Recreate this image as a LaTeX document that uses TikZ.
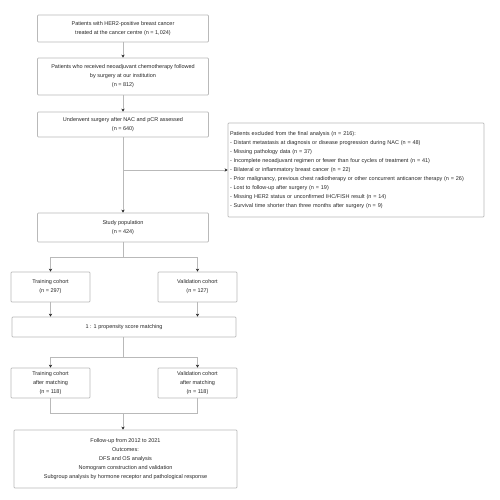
\documentclass[tikz,border=0pt]{standalone}
\usepackage{fontspec}
\setmainfont{Liberation Sans}
\usetikzlibrary{arrows.meta}

\tikzset{
  flowbox/.style={draw=gray!55, line width=0.7pt, rounded corners=0.8pt, align=center,
    text=black!85, font=\fontsize{5.5}{9}\selectfont, inner sep=2pt},
  flowline/.style={draw=gray!55, line width=0.7pt},
  >={Stealth[length=3pt,width=3.2pt,black!85]}
}

\begin{document}
\begin{tikzpicture}[x=1pt,y=1pt]
\useasboundingbox (0,0) rectangle (500,-500);

% main column
\node[flowbox, minimum width=171pt, minimum height=27pt] (pool) at (123,-28.5)
  {Patients with HER2-positive breast cancer\\ treated at the cancer centre (n = 1,024)};
\node[flowbox, minimum width=171pt, minimum height=37pt] (nac) at (123,-76.5)
  {Patients who received neoadjuvant chemotherapy followed\\ by surgery at our institution\\ (n = 812)};
\node[flowbox, minimum width=171pt, minimum height=25pt] (surg) at (123,-124.5)
  {Underwent surgery after NAC and pCR assessed\\ (n = 640)};

% exclusions
\node[flowbox, align=left, text width=252pt, minimum height=94pt] (excl) at (356,-170)
  {Patients excluded from the final analysis (n = 216):\\
   - Distant metastasis at diagnosis or disease progression during NAC (n = 48)\\
   - Missing pathology data (n = 37)\\
   - Incomplete neoadjuvant regimen or fewer than four cycles of treatment (n = 41)\\
   - Bilateral or inflammatory breast cancer (n = 22)\\
   - Prior malignancy, previous chest radiotherapy or other concurrent anticancer therapy (n = 26)\\
   - Lost to follow-up after surgery (n = 19)\\
   - Missing HER2 status or unconfirmed IHC/FISH result (n = 14)\\
   - Survival time shorter than three months after surgery (n = 9)};

\node[flowbox, minimum width=171pt, minimum height=29pt] (study) at (123,-227.5)
  {Study population\\ (n = 424)};

% first split
\node[flowbox, minimum width=79pt, minimum height=30pt] (trainA) at (50.5,-287)
  {Training cohort\\ (n = 297)};
\node[flowbox, minimum width=79pt, minimum height=30pt] (validA) at (197.5,-287)
  {Validation cohort\\ (n = 127)};

\node[flowbox, minimum width=224pt, minimum height=20pt] (psm) at (124,-327)
  {1 : 1 propensity score matching};

% second split
\node[flowbox, minimum width=79pt, minimum height=30pt] (trainB) at (50.5,-383)
  {Training cohort\\ after matching\\ (n = 118)};
\node[flowbox, minimum width=79pt, minimum height=30pt] (validB) at (197.5,-383)
  {Validation cohort\\ after matching\\ (n = 118)};

\node[flowbox, minimum width=223pt, minimum height=58pt] (fu) at (125.5,-459)
  {Follow-up from 2012 to 2021\\ Outcomes:\\ DFS and OS analysis\\
   Nomogram construction and validation\\
   Subgroup analysis by hormone receptor and pathological response};

% connectors
\draw[flowline,->] (pool) -- (nac);
\draw[flowline,->] (nac) -- (surg);
\draw[flowline,->] (surg) -- (study);
\coordinate (exbr) at (surg.south |- excl.west);
\draw[flowline,->] (exbr) -- (excl.west);

\coordinate (splitA) at ([yshift=-15pt]study.south);
\draw[flowline] (study) -- (splitA);
\draw[flowline,->] (splitA) -| (trainA.north);
\draw[flowline,->] (splitA) -| (validA.north);
\draw[flowline,->] (trainA) -- (trainA.south |- psm.north);
\draw[flowline,->] (validA) -- (validA.south |- psm.north);

\coordinate (splitB) at ([yshift=-20pt]psm.south -| study.south);
\draw[flowline] (psm.south -| study.south) -- (splitB);
\draw[flowline,->] (splitB) -| (trainB.north);
\draw[flowline,->] (splitB) -| (validB.north);

\coordinate (joinB) at ([yshift=-15pt]trainB.south -| study.south);
\draw[flowline] (trainB.south) |- (joinB) -| (validB.south);
\draw[flowline,->] (joinB) -- (joinB |- fu.north);
\end{tikzpicture}
\end{document}
